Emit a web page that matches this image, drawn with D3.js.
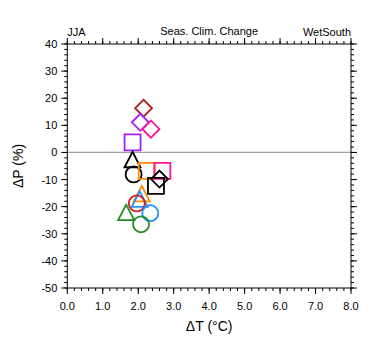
<!DOCTYPE html>
<html><head><meta charset="utf-8">
<script src="https://cdn.jsdelivr.net/npm/d3@7"></script>
<style>body{margin:0;background:#fff}svg{display:block}text{font-family:"Liberation Sans",Arial,Helvetica,sans-serif;fill:#000}</style>
</head><body><svg id="c" width="380" height="355"></svg>
<script>
const dT = [2.15, 2.06, 2.36, 1.84, 1.84, 1.87, 2.24, 2.68, 2.6, 2.5, 2.1, 2.04, 1.96, 1.66, 2.34, 2.08];
const dP = [16.3, 11.1, 8.6, 3.7, -2.7, -8.1, -6.8, -6.8, -9.8, -12.3, -15.3, -17.3, -18.8, -22.2, -22.4, -26.5];
const shapes = ["diamond","diamond","diamond","square","triangle","circle","square","square","diamond","square","triangle","triangle","circle","triangle","circle","circle"];
const colors = ["#b22222","#a020f0","#ff1493","#a020f0","#000000","#000000","#ff8c00","#ff1493","#000000","#000000","#ff8c00","#1e90ff","#cc2222","#228b22","#1e90ff","#228b22"];
const xTicks = [0,1,2,3,4,5,6,7,8];
const yTicks = [40,30,20,10,0,-10,-20,-30,-40,-50];

const L=67.3,R=351,T=44,B=288;
const svg=d3.select("#c");
const x=d3.scaleLinear().domain([0,8]).range([L,R]);
const y=d3.scaleLinear().domain([-50,40]).range([B,T]);

// zero line
svg.append("line").attr("x1",L).attr("x2",R).attr("y1",y(0)).attr("y2",y(0)).attr("stroke","#a0a0a0").attr("stroke-width",1.2);

// axes (outward ticks)
const xMinor=d3.range(0,8.001,0.2), yMinor=d3.range(-50,40.001,2);
const g=svg.append("g").attr("stroke","#000").attr("stroke-width",1);
xMinor.forEach(v=>{const X=x(v);
  g.append("line").attr("x1",X).attr("x2",X).attr("y1",B).attr("y2",B+3);
  g.append("line").attr("x1",X).attr("x2",X).attr("y1",T).attr("y2",T-3);});
xTicks.forEach(v=>{const X=x(v);
  g.append("line").attr("x1",X).attr("x2",X).attr("y1",B).attr("y2",B+6);
  g.append("line").attr("x1",X).attr("x2",X).attr("y1",T).attr("y2",T-6);});
yMinor.forEach(v=>{const Y=y(v);
  g.append("line").attr("y1",Y).attr("y2",Y).attr("x1",L).attr("x2",L-3);
  g.append("line").attr("y1",Y).attr("y2",Y).attr("x1",R).attr("x2",R+3);});
yTicks.forEach(v=>{const Y=y(v);
  g.append("line").attr("y1",Y).attr("y2",Y).attr("x1",L).attr("x2",L-6);
  g.append("line").attr("y1",Y).attr("y2",Y).attr("x1",R).attr("x2",R+6);});
svg.append("rect").attr("x",L).attr("y",T).attr("width",R-L).attr("height",B-T).attr("fill","none").attr("stroke","#000").attr("stroke-width",1);

xTicks.forEach(v=>svg.append("text").attr("x",x(v)).attr("y",B+22).attr("text-anchor","middle").attr("font-size",11).text(v.toFixed(1)));
yTicks.forEach(v=>svg.append("text").attr("x",L-10).attr("y",y(v)+4).attr("text-anchor","end").attr("font-size",11).text(v));

svg.append("text").attr("x",(L+R)/2).attr("y",B+43).attr("text-anchor","middle").attr("font-size",14).text("ΔT (°C)");
svg.append("text").attr("transform",`translate(23,${(T+B)/2}) rotate(-90)`).attr("text-anchor","middle").attr("font-size",14).text("ΔP (%)");
svg.append("text").attr("x",L).attr("y",36).attr("font-size",11).text("JJA");
svg.append("text").attr("x",(L+R)/2).attr("y",35).attr("text-anchor","middle").attr("font-size",11).text("Seas. Clim. Change");
svg.append("text").attr("x",R).attr("y",36).attr("text-anchor","end").attr("font-size",11).text("WetSouth");

const path={
  square:"M-8,-8H8V8H-8Z",
  diamond:"M0,-8.5L8.5,0L0,8.5L-8.5,0Z",
  triangle:"M0,-8L8,7.5H-8Z",
  circle:"M8,0A8,8 0 1,1 -8,0A8,8 0 1,1 8,0Z"
};
svg.append("g").selectAll("path").data(dT.map((d,i)=>i)).join("path")
  .attr("transform",i=>`translate(${x(dT[i])},${y(dP[i])})`)
  .attr("d",i=>path[shapes[i]]).attr("fill","none")
  .attr("stroke",i=>colors[i]).attr("stroke-width",1.8);
</script></body></html>
